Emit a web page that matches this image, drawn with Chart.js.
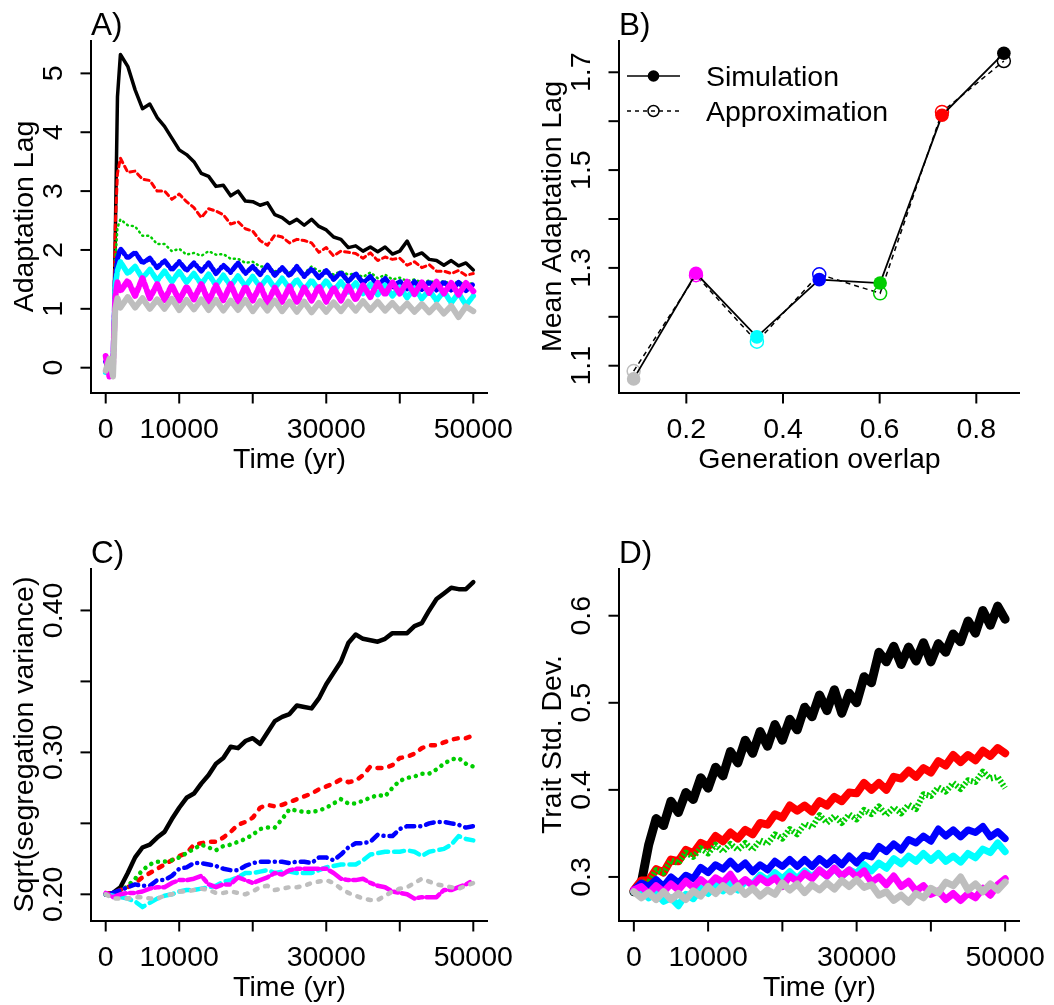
<!DOCTYPE html>
<html>
<head>
<title>Adaptation lag, segregation variance and trait SD</title>
<script src="https://cdn.jsdelivr.net/npm/chart.js"></script>
<style>
  body { margin: 0; background: #fff; }
  #wrap { position: relative; width: 1054px; height: 1005px; }
  canvas { position: absolute; }
</style>
</head>
<body>
<div id="wrap">
  <canvas id="chartA" width="527" height="502" style="left:0;top:0"></canvas>
  <canvas id="chartB" width="527" height="502" style="left:527px;top:0"></canvas>
  <canvas id="chartC" width="527" height="503" style="left:0;top:502px"></canvas>
  <canvas id="chartD" width="527" height="503" style="left:527px;top:502px"></canvas>
</div>
<script>
// series order: high overlap (black) ... low overlap (gray)
const seriesColors = ['#000000', '#FF0000', '#00CD00', '#0000FF', '#00FFFF', '#FF00FF', '#BEBEBE'];

// ---- panel A: adaptation lag over time
const timeA = [0, 500, 1000, 1300, 1600, 2000, 3000, 4000, 5000, 6000, 7000, 8000, 9000, 10000,
  11000, 12000, 13000, 14000, 15000, 16000, 17000, 18000, 19000, 20000, 21000, 22000, 23000, 24000,
  25000, 26000, 27000, 28000, 29000, 30000, 31000, 32000, 33000, 34000, 35000, 36000, 37000, 38000,
  39000, 40000, 41000, 42000, 43000, 44000, 45000, 46000, 47000, 48000, 49000, 50000];
const lagBlack = [0.05, -0.12, 0.08, 2.2, 4.6, 5.32, 5.12, 4.72, 4.40, 4.48, 4.25, 4.10, 3.90, 3.70, 3.62, 3.50, 3.30, 3.25, 3.08, 3.10, 2.92, 3.00, 2.83, 2.82, 2.76, 2.80, 2.60, 2.55, 2.45, 2.52, 2.42, 2.52, 2.40, 2.34, 2.22, 2.18, 2.04, 2.07, 1.98, 2.05, 1.97, 2.05, 1.93, 1.98, 2.15, 1.90, 1.95, 1.84, 1.82, 1.74, 1.82, 1.73, 1.78, 1.66];
const lagRed = [0.02, 0.12, -0.08, 2.4, 3.3, 3.56, 3.32, 3.34, 3.20, 3.18, 3.00, 3.00, 2.86, 2.95, 2.82, 2.72, 2.55, 2.70, 2.66, 2.60, 2.44, 2.48, 2.36, 2.32, 2.16, 2.08, 2.25, 2.22, 2.12, 2.18, 2.16, 2.12, 1.96, 2.04, 1.90, 1.98, 1.96, 1.94, 1.86, 1.95, 1.82, 1.88, 1.84, 1.86, 1.74, 1.80, 1.70, 1.75, 1.64, 1.64, 1.60, 1.65, 1.57, 1.60];
const lagGreen = [-0.05, 0.06, 0.0, 1.8, 2.38, 2.52, 2.42, 2.40, 2.24, 2.24, 2.10, 2.10, 1.98, 2.02, 1.92, 1.95, 1.90, 1.98, 1.92, 1.93, 1.85, 1.85, 1.78, 1.80, 1.72, 1.72, 1.64, 1.66, 1.62, 1.66, 1.60, 1.72, 1.64, 1.66, 1.58, 1.64, 1.58, 1.60, 1.54, 1.62, 1.52, 1.58, 1.50, 1.53, 1.47, 1.50, 1.45, 1.48, 1.44, 1.47, 1.42, 1.46, 1.41, 1.44];
const lagBlue = [0.10, -0.05, 0.02, 1.5, 1.85, 2.02, 1.86, 1.96, 1.78, 1.86, 1.70, 1.82, 1.66, 1.80, 1.65, 1.78, 1.64, 1.78, 1.60, 1.74, 1.62, 1.78, 1.60, 1.72, 1.58, 1.74, 1.57, 1.70, 1.56, 1.72, 1.55, 1.68, 1.53, 1.65, 1.50, 1.62, 1.46, 1.60, 1.44, 1.55, 1.40, 1.52, 1.36, 1.47, 1.34, 1.46, 1.33, 1.46, 1.32, 1.46, 1.32, 1.45, 1.31, 1.42];
const lagCyan = [-0.08, 0.04, 0.10, 1.4, 1.65, 1.80, 1.60, 1.72, 1.52, 1.67, 1.48, 1.64, 1.46, 1.63, 1.45, 1.60, 1.42, 1.59, 1.40, 1.57, 1.39, 1.56, 1.38, 1.55, 1.37, 1.53, 1.35, 1.52, 1.34, 1.50, 1.32, 1.49, 1.31, 1.48, 1.30, 1.46, 1.29, 1.44, 1.26, 1.42, 1.24, 1.40, 1.22, 1.37, 1.19, 1.35, 1.17, 1.32, 1.14, 1.30, 1.10, 1.27, 1.06, 1.22];
const lagMagenta = [0.20, -0.15, 0.05, 1.2, 1.45, 1.30, 1.48, 1.22, 1.52, 1.18, 1.42, 1.15, 1.40, 1.14, 1.38, 1.16, 1.42, 1.12, 1.40, 1.14, 1.42, 1.12, 1.38, 1.14, 1.40, 1.10, 1.36, 1.12, 1.38, 1.10, 1.36, 1.14, 1.38, 1.12, 1.36, 1.14, 1.38, 1.15, 1.40, 1.20, 1.44, 1.24, 1.45, 1.26, 1.46, 1.25, 1.45, 1.27, 1.46, 1.26, 1.44, 1.24, 1.44, 1.30];
const lagGray = [-0.05, 0.15, -0.15, 1.0, 1.18, 1.02, 1.20, 1.02, 1.18, 1.00, 1.16, 1.00, 1.17, 0.98, 1.15, 0.99, 1.16, 0.98, 1.15, 0.97, 1.14, 0.98, 1.15, 0.96, 1.13, 0.97, 1.14, 0.96, 1.12, 0.95, 1.12, 0.94, 1.10, 0.95, 1.11, 0.96, 1.12, 0.97, 1.13, 0.98, 1.12, 0.97, 1.10, 0.96, 1.09, 0.95, 1.08, 0.94, 1.07, 0.92, 1.05, 0.86, 1.04, 0.96];

// ---- panel B: mean lag vs generation overlap
const overlap = [0.091, 0.220, 0.346, 0.475, 0.601, 0.729, 0.857];
const simLag = [1.073, 1.289, 1.159, 1.276, 1.269, 1.612, 1.739];
const approxLag = [1.089, 1.285, 1.149, 1.287, 1.248, 1.619, 1.723];
const overlapColors = ['#BEBEBE', '#FF00FF', '#00FFFF', '#0000FF', '#00CD00', '#FF0000', '#000000'];

// ---- panels C and D share the time grid
const timeCD = [0, 1000, 2000, 3000, 4000, 5000, 6000, 7000, 8000, 9000, 10000, 11000, 12000, 13000,
  14000, 15000, 16000, 17000, 18000, 19000, 20000, 21000, 22000, 23000, 24000, 25000, 26000, 27000,
  28000, 29000, 30000, 31000, 32000, 33000, 34000, 35000, 36000, 37000, 38000, 39000, 40000, 41000,
  42000, 43000, 44000, 45000, 46000, 47000, 48000, 49000, 50000];

// panel C: sqrt(segregation variance)
const segBlack = [0.200, 0.201, 0.205, 0.215, 0.226, 0.233, 0.235, 0.240, 0.244, 0.253, 0.261, 0.268, 0.271, 0.278, 0.284, 0.292, 0.296, 0.304, 0.303, 0.308, 0.310, 0.306, 0.314, 0.322, 0.325, 0.327, 0.333, 0.332, 0.331, 0.338, 0.348, 0.356, 0.364, 0.377, 0.383, 0.380, 0.379, 0.378, 0.380, 0.384, 0.384, 0.384, 0.389, 0.391, 0.400, 0.408, 0.412, 0.416, 0.415, 0.415, 0.420];
const segRed = [0.200, 0.201, 0.203, 0.205, 0.208, 0.212, 0.215, 0.218, 0.221, 0.224, 0.227, 0.229, 0.235, 0.236, 0.237, 0.237, 0.240, 0.244, 0.249, 0.251, 0.254, 0.261, 0.263, 0.262, 0.263, 0.265, 0.267, 0.269, 0.271, 0.274, 0.276, 0.278, 0.281, 0.279, 0.280, 0.284, 0.290, 0.289, 0.289, 0.291, 0.296, 0.297, 0.299, 0.303, 0.305, 0.305, 0.307, 0.309, 0.310, 0.310, 0.312];
const segGreen = [0.200, 0.200, 0.202, 0.206, 0.211, 0.217, 0.221, 0.223, 0.223, 0.224, 0.226, 0.229, 0.232, 0.235, 0.233, 0.231, 0.234, 0.235, 0.237, 0.239, 0.242, 0.246, 0.247, 0.247, 0.253, 0.260, 0.259, 0.258, 0.258, 0.259, 0.261, 0.264, 0.267, 0.264, 0.264, 0.266, 0.268, 0.270, 0.269, 0.275, 0.280, 0.282, 0.283, 0.285, 0.285, 0.288, 0.292, 0.295, 0.296, 0.292, 0.290];
const segBlue = [0.200, 0.201, 0.203, 0.205, 0.207, 0.206, 0.206, 0.210, 0.210, 0.213, 0.218, 0.219, 0.222, 0.222, 0.221, 0.220, 0.218, 0.217, 0.217, 0.220, 0.222, 0.223, 0.223, 0.223, 0.223, 0.222, 0.223, 0.223, 0.222, 0.226, 0.226, 0.224, 0.228, 0.233, 0.236, 0.236, 0.237, 0.242, 0.241, 0.241, 0.246, 0.248, 0.248, 0.248, 0.250, 0.251, 0.251, 0.250, 0.249, 0.247, 0.248];
const segCyan = [0.200, 0.199, 0.198, 0.197, 0.195, 0.191, 0.194, 0.197, 0.199, 0.200, 0.202, 0.203, 0.203, 0.204, 0.205, 0.206, 0.209, 0.210, 0.212, 0.215, 0.215, 0.216, 0.217, 0.215, 0.216, 0.216, 0.215, 0.215, 0.215, 0.217, 0.219, 0.220, 0.221, 0.221, 0.221, 0.224, 0.228, 0.229, 0.230, 0.230, 0.230, 0.231, 0.230, 0.227, 0.230, 0.231, 0.232, 0.235, 0.241, 0.239, 0.238];
const segMagenta = [0.201, 0.198, 0.200, 0.201, 0.201, 0.202, 0.204, 0.205, 0.205, 0.208, 0.210, 0.210, 0.211, 0.213, 0.207, 0.205, 0.207, 0.207, 0.212, 0.210, 0.208, 0.210, 0.212, 0.215, 0.214, 0.217, 0.218, 0.218, 0.218, 0.218, 0.218, 0.215, 0.211, 0.210, 0.210, 0.211, 0.208, 0.206, 0.205, 0.202, 0.201, 0.200, 0.197, 0.198, 0.198, 0.198, 0.203, 0.203, 0.205, 0.207, 0.210];
const segGray = [0.200, 0.197, 0.197, 0.197, 0.198, 0.198, 0.197, 0.197, 0.199, 0.200, 0.202, 0.202, 0.203, 0.204, 0.203, 0.201, 0.201, 0.202, 0.201, 0.200, 0.202, 0.205, 0.206, 0.203, 0.204, 0.205, 0.205, 0.206, 0.208, 0.209, 0.210, 0.208, 0.204, 0.201, 0.199, 0.197, 0.196, 0.196, 0.199, 0.202, 0.204, 0.205, 0.208, 0.211, 0.209, 0.207, 0.206, 0.205, 0.204, 0.206, 0.208];

// panel D: trait standard deviation
const sdBlack = [0.283, 0.293, 0.337, 0.367, 0.359, 0.387, 0.374, 0.397, 0.389, 0.414, 0.402, 0.426, 0.416, 0.444, 0.431, 0.457, 0.442, 0.467, 0.450, 0.475, 0.457, 0.481, 0.469, 0.495, 0.484, 0.509, 0.491, 0.515, 0.488, 0.511, 0.500, 0.530, 0.523, 0.558, 0.547, 0.565, 0.544, 0.564, 0.548, 0.569, 0.547, 0.568, 0.558, 0.579, 0.570, 0.594, 0.580, 0.606, 0.589, 0.611, 0.596];
const sdRed = [0.285, 0.296, 0.296, 0.309, 0.305, 0.320, 0.318, 0.331, 0.327, 0.339, 0.335, 0.347, 0.341, 0.351, 0.344, 0.354, 0.349, 0.362, 0.360, 0.372, 0.368, 0.382, 0.376, 0.382, 0.375, 0.387, 0.382, 0.392, 0.387, 0.397, 0.396, 0.408, 0.400, 0.408, 0.400, 0.415, 0.413, 0.422, 0.415, 0.425, 0.420, 0.433, 0.428, 0.440, 0.432, 0.440, 0.434, 0.445, 0.439, 0.448, 0.442];
const sdGreen = [0.285, 0.294, 0.293, 0.308, 0.305, 0.319, 0.316, 0.328, 0.323, 0.333, 0.327, 0.337, 0.329, 0.338, 0.331, 0.339, 0.331, 0.342, 0.338, 0.349, 0.344, 0.355, 0.349, 0.361, 0.357, 0.371, 0.362, 0.370, 0.362, 0.372, 0.366, 0.377, 0.372, 0.381, 0.371, 0.380, 0.373, 0.383, 0.378, 0.395, 0.393, 0.403, 0.398, 0.408, 0.401, 0.411, 0.409, 0.421, 0.413, 0.415, 0.402];
const sdBlue = [0.285, 0.293, 0.289, 0.297, 0.289, 0.300, 0.293, 0.302, 0.298, 0.311, 0.305, 0.314, 0.309, 0.318, 0.309, 0.316, 0.306, 0.314, 0.308, 0.318, 0.312, 0.320, 0.312, 0.320, 0.312, 0.321, 0.314, 0.322, 0.314, 0.324, 0.316, 0.325, 0.323, 0.335, 0.329, 0.338, 0.331, 0.343, 0.339, 0.347, 0.341, 0.355, 0.347, 0.354, 0.346, 0.354, 0.351, 0.358, 0.346, 0.352, 0.344];
const sdCyan = [0.283, 0.285, 0.276, 0.282, 0.272, 0.276, 0.267, 0.280, 0.275, 0.287, 0.281, 0.291, 0.284, 0.293, 0.285, 0.295, 0.292, 0.302, 0.296, 0.305, 0.298, 0.306, 0.298, 0.307, 0.300, 0.308, 0.301, 0.310, 0.301, 0.308, 0.304, 0.314, 0.307, 0.316, 0.310, 0.321, 0.315, 0.324, 0.318, 0.327, 0.319, 0.327, 0.318, 0.324, 0.317, 0.327, 0.322, 0.332, 0.328, 0.339, 0.329];
const sdMagenta = [0.285, 0.289, 0.281, 0.290, 0.283, 0.292, 0.285, 0.295, 0.288, 0.297, 0.290, 0.299, 0.294, 0.303, 0.290, 0.297, 0.290, 0.299, 0.293, 0.299, 0.289, 0.301, 0.295, 0.304, 0.298, 0.308, 0.301, 0.310, 0.301, 0.308, 0.300, 0.307, 0.294, 0.300, 0.291, 0.301, 0.289, 0.295, 0.284, 0.290, 0.280, 0.284, 0.274, 0.281, 0.273, 0.281, 0.276, 0.287, 0.279, 0.291, 0.298];
const sdGray = [0.283, 0.276, 0.282, 0.274, 0.283, 0.274, 0.281, 0.274, 0.284, 0.278, 0.289, 0.281, 0.290, 0.283, 0.290, 0.280, 0.287, 0.278, 0.285, 0.280, 0.293, 0.285, 0.292, 0.282, 0.291, 0.285, 0.293, 0.286, 0.296, 0.289, 0.297, 0.288, 0.291, 0.279, 0.283, 0.273, 0.279, 0.271, 0.281, 0.276, 0.287, 0.282, 0.294, 0.290, 0.300, 0.285, 0.292, 0.283, 0.292, 0.285, 0.294];

// ---- tick labels (R drops the ones that would overlap)
const timeTicks = [0, 10000, 20000, 30000, 40000, 50000];
const timeTickLabels = ['0', '10000', '', '30000', '', '50000'];
const lagTicks = [0, 1, 2, 3, 4, 5];
const lagTickLabels = ['0', '1', '2', '3', '4', '5'];
const overlapTicks = [0.2, 0.4, 0.6, 0.8];
const overlapTickLabels = ['0.2', '0.4', '0.6', '0.8'];
const meanLagTicks = [1.1, 1.2, 1.3, 1.4, 1.5, 1.6, 1.7];
const meanLagTickLabels = ['1.1', '', '1.3', '', '1.5', '', '1.7'];
const segTicks = [0.20, 0.25, 0.30, 0.35, 0.40];
const segTickLabels = ['0.20', '', '0.30', '', '0.40'];
const sdTicks = [0.3, 0.4, 0.5, 0.6];
const sdTickLabels = ['0.3', '0.4', '0.5', '0.6'];

const FONT = '28.5px "Liberation Sans", Arial, Helvetica, sans-serif';
const TAG_FONT = '31.5px "Liberation Sans", Arial, Helvetica, sans-serif';

// R-style "l" box axes with rotated y labels
const rAxes = {
  id: 'rAxes',
  afterDraw(chart, args, o) {
    const { ctx, chartArea: a } = chart;
    const xs = chart.scales.x, ys = chart.scales.y;
    ctx.save();
    ctx.strokeStyle = '#000';
    ctx.fillStyle = '#000';
    ctx.lineWidth = 2;
    ctx.setLineDash([]);
    ctx.beginPath();
    ctx.moveTo(a.left, a.top);
    ctx.lineTo(a.left, a.bottom);
    ctx.lineTo(a.right, a.bottom);
    ctx.stroke();

    ctx.font = FONT;
    ctx.textAlign = 'center';
    ctx.textBaseline = 'alphabetic';
    o.xTicks.forEach((v, i) => {
      const px = xs.getPixelForValue(v);
      ctx.beginPath();
      ctx.moveTo(px, a.bottom);
      ctx.lineTo(px, a.bottom + 10.5);
      ctx.stroke();
      if (o.xLabels[i]) ctx.fillText(o.xLabels[i], px, a.bottom + 45);
    });
    o.yTicks.forEach((v, i) => {
      const py = ys.getPixelForValue(v);
      ctx.beginPath();
      ctx.moveTo(a.left, py);
      ctx.lineTo(a.left - 10.5, py);
      ctx.stroke();
      if (o.yLabels[i]) {
        ctx.save();
        ctx.translate(a.left - 29, py);
        ctx.rotate(-Math.PI / 2);
        ctx.fillText(o.yLabels[i], 0, 0);
        ctx.restore();
      }
    });
    ctx.fillText(o.xTitle, (a.left + a.right) / 2, a.bottom + 75);
    ctx.save();
    ctx.translate(a.left - 58, (a.top + a.bottom) / 2);
    ctx.rotate(-Math.PI / 2);
    ctx.fillText(o.yTitle, 0, 0);
    ctx.restore();

    ctx.font = TAG_FONT;
    ctx.textAlign = 'left';
    ctx.fillText(o.tag, a.left, a.top - 5);

    if (o.legend) {
      const x0 = a.left + 8, x1 = a.left + 61, xm = a.left + 34.5;
      const y1 = a.top + 36, y2 = a.top + 71;
      ctx.lineWidth = 1.5;
      ctx.beginPath(); ctx.moveTo(x0, y1); ctx.lineTo(x1, y1); ctx.stroke();
      ctx.beginPath(); ctx.arc(xm, y1, 5.8, 0, Math.PI * 2); ctx.fill();
      ctx.setLineDash([4, 4]);
      ctx.beginPath(); ctx.moveTo(x0, y2); ctx.lineTo(x1, y2); ctx.stroke();
      ctx.setLineDash([]);
      ctx.beginPath(); ctx.arc(xm, y2, 5.5, 0, Math.PI * 2); ctx.stroke();
      ctx.font = FONT;
      ctx.fillText('Simulation', a.left + 87, y1 + 10);
      ctx.fillText('Approximation', a.left + 87, y2 + 10);
    }
    ctx.restore();
  }
};

function lineSet(xs, ys, i, width, dash, cap) {
  return {
    data: xs.map((t, k) => ({ x: t, y: ys[k] })),
    borderColor: seriesColors[i],
    borderWidth: width,
    borderDash: dash,
    borderCapStyle: cap || 'round',
    borderJoinStyle: 'round',
    pointRadius: 0,
    tension: 0,
    order: seriesColors.length - 1 - i
  };
}

function makeChart(id, datasets, pad, xr, yr, axes) {
  return new Chart(document.getElementById(id), {
    type: 'line',
    data: { datasets: datasets },
    options: {
      responsive: false,
      animation: false,
      events: [],
      layout: { padding: pad },
      scales: {
        x: { type: 'linear', min: xr[0], max: xr[1], display: false },
        y: { type: 'linear', min: yr[0], max: yr[1], display: false }
      },
      plugins: { legend: { display: false }, tooltip: { enabled: false }, rAxes: axes }
    },
    plugins: [rAxes]
  });
}

// A: noisy bands -> wide strokes
const seriesA = [lagBlack, lagRed, lagGreen, lagBlue, lagCyan, lagMagenta, lagGray];
const widthA = [3.5, 3, 2.5, 5, 5.5, 6, 6];
const dashA = [[], [5, 4], [1, 4], [1, 3, 6, 3], [10, 3], [4, 3, 10, 3], []];
makeChart('chartA',
  seriesA.map((s, i) => lineSet(timeA, s, i, widthA[i], dashA[i])),
  { left: 91, top: 40, right: 39, bottom: 109 }, [-2000, 52000], [-0.43, 5.567],
  { xTicks: timeTicks, xLabels: timeTickLabels, yTicks: lagTicks, yLabels: lagTickLabels,
    xTitle: 'Time (yr)', yTitle: 'Adaptation Lag', tag: 'A)' });

// B
makeChart('chartB', [
  {
    data: overlap.map((x, k) => ({ x: x, y: simLag[k] })),
    borderColor: '#000', borderWidth: 1.8, tension: 0,
    pointRadius: 6.8, pointBorderWidth: 0,
    pointBackgroundColor: overlapColors, pointBorderColor: overlapColors
  },
  {
    data: overlap.map((x, k) => ({ x: x, y: approxLag[k] })),
    borderColor: '#000', borderWidth: 1.5, borderDash: [5, 4], tension: 0,
    pointRadius: 6.5, pointBorderWidth: 1.5,
    pointBackgroundColor: 'rgba(0,0,0,0)', pointBorderColor: overlapColors
  }
], { left: 92, top: 40, right: 34, bottom: 109 }, [0.0607, 0.8904], [1.0442, 1.766],
  { xTicks: overlapTicks, xLabels: overlapTickLabels, yTicks: meanLagTicks, yLabels: meanLagTickLabels,
    xTitle: 'Generation overlap', yTitle: 'Mean Adaptation Lag', tag: 'B)', legend: true });

// C
const seriesC = [segBlack, segRed, segGreen, segBlue, segCyan, segMagenta, segGray];
const dashC = [[], [4, 8], [0.1, 7], [0.1, 6, 8, 6], [10, 6], [4, 4, 14, 4], [3, 8]];
makeChart('chartC',
  seriesC.map((s, i) => lineSet(timeCD, s, i, 4.5, dashC[i])),
  { left: 91, top: 66, right: 39, bottom: 84 }, [-2000, 52000], [0.1812, 0.4299],
  { xTicks: timeTicks, xLabels: timeTickLabels, yTicks: segTicks, yLabels: segTickLabels,
    xTitle: 'Time (yr)', yTitle: 'Sqrt(segregation variance)', tag: 'C)' });

// D: noisy bands -> wide strokes; green stays speckled
const seriesD = [sdBlack, sdRed, sdGreen, sdBlue, sdCyan, sdMagenta, sdGray];
const widthD = [9, 8, 6, 7, 7, 7, 7];
const dashD = [[], [], [2, 2], [], [], [], []];
const capD = ['round', 'round', 'butt', 'round', 'round', 'round', 'round'];
makeChart('chartD',
  seriesD.map((s, i) => lineSet(timeCD, s, i, widthD[i], dashD[i], capD[i])),
  { left: 92, top: 66, right: 34, bottom: 84 }, [-2000, 52000], [0.2494, 0.6548],
  { xTicks: timeTicks, xLabels: timeTickLabels, yTicks: sdTicks, yLabels: sdTickLabels,
    xTitle: 'Time (yr)', yTitle: 'Trait Std. Dev.', tag: 'D)' });
</script>
</body>
</html>
